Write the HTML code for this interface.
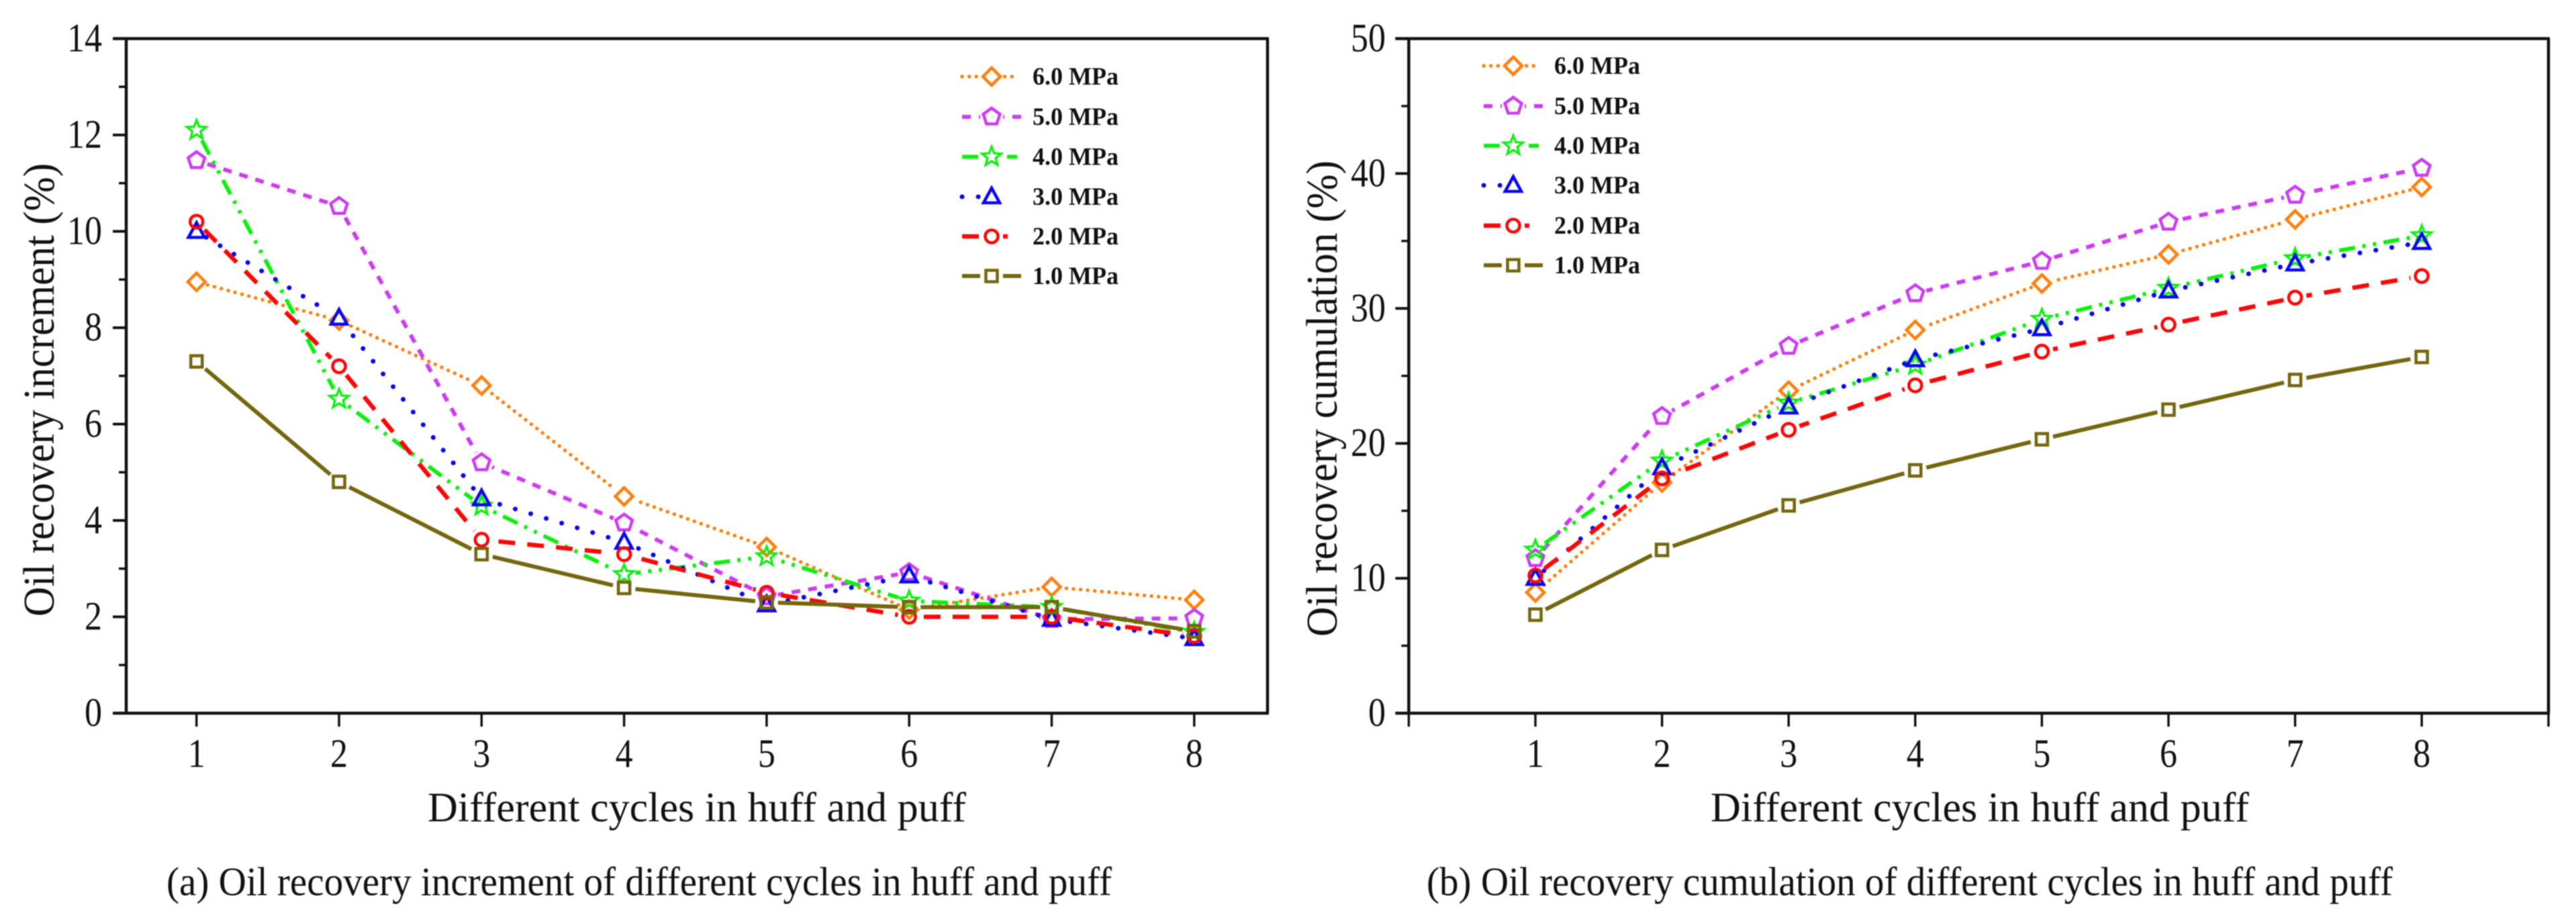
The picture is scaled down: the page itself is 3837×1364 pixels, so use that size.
<!DOCTYPE html>
<html lang="en">
<head>
<meta charset="utf-8">
<title>Oil recovery in huff and puff cycles</title>
<style>
html,body{margin:0;padding:0;background:#fff;width:3837px;height:1364px;overflow:hidden}
svg{display:block;filter:blur(.8px)}
text{font-family:"Liberation Serif",serif;fill:#111}
</style>
</head>
<body>
<svg id="figure" xmlns="http://www.w3.org/2000/svg" width="3837" height="1364" viewBox="0 0 3837 1364">
<rect x="0" y="0" width="3837" height="1364" fill="#fff"/>
</svg>
<script>
const cycles = [1, 2, 3, 4, 5, 6, 7, 8];
const seriesLabels = ['6.0 MPa', '5.0 MPa', '4.0 MPa', '3.0 MPa', '2.0 MPa', '1.0 MPa'];

const incrementP6 = [8.95, 8.15, 6.8, 4.5, 3.45, 2.15, 2.62, 2.35];
const incrementP5 = [11.47, 10.52, 5.2, 3.95, 2.42, 2.92, 1.95, 1.97];
const incrementP4 = [12.1, 6.52, 4.3, 2.88, 3.25, 2.33, 2.2, 1.68];
const incrementP3 = [10.0, 8.2, 4.45, 3.55, 2.25, 2.85, 1.95, 1.55];
const incrementP2 = [10.2, 7.2, 3.6, 3.3, 2.5, 2.0, 2.0, 1.6];
const incrementP1 = [7.3, 4.8, 3.3, 2.6, 2.3, 2.2, 2.2, 1.7];

const cumulationP6 = [8.95, 17.1, 23.9, 28.4, 31.85, 34.0, 36.6, 39.0];
const cumulationP5 = [11.47, 22.0, 27.2, 31.1, 33.5, 36.4, 38.4, 40.4];
const cumulationP4 = [12.1, 18.7, 23.0, 25.8, 29.2, 31.5, 33.7, 35.4];
const cumulationP3 = [10.0, 18.2, 22.7, 26.2, 28.5, 31.3, 33.3, 34.9];
const cumulationP2 = [10.2, 17.4, 21.0, 24.3, 26.8, 28.8, 30.8, 32.4];
const cumulationP1 = [7.3, 12.1, 15.4, 18.0, 20.3, 22.5, 24.7, 26.4];

const incrementTicks = [0, 2, 4, 6, 8, 10, 12, 14];
const incrementMinorTicks = [1, 3, 5, 7, 9, 11, 13];
const cumulationTicks = [0, 10, 20, 30, 40, 50];
const cumulationMinorTicks = [5, 15, 25, 35, 45];

const SVGNS = 'http://www.w3.org/2000/svg';
const root = document.getElementById('figure');

const styles = [
  {key:'6-mpa', color:'#ff8010', dash:'0.1 10.5', cap:'round', w:5.5, marker:'diamond'},
  {key:'5-mpa', color:'#cc3df2', dash:'13 12', cap:'butt', w:6, marker:'pentagon'},
  {key:'4-mpa', color:'#10ee10', dash:'24 11 5 11 5 11', cap:'butt', w:6, marker:'star'},
  {key:'3-mpa', color:'#0808f0', dash:'0.1 24', cap:'round', w:7, marker:'triangle'},
  {key:'2-mpa', color:'#fa0808', dash:'25 18', cap:'butt', w:6.5, marker:'circle'},
  {key:'1-mpa', color:'#75670f', dash:'', cap:'butt', w:6, marker:'square'}
];

function make(tag, attrs, parent) {
  const n = document.createElementNS(SVGNS, tag);
  for (const k in attrs) n.setAttribute(k, attrs[k]);
  (parent || root).appendChild(n);
  return n;
}

function markerPoints(type, cx, cy) {
  const pts = [];
  if (type === 'diamond') {
    return [[cx, cy - 13], [cx + 13, cy], [cx, cy + 13], [cx - 13, cy]];
  }
  if (type === 'triangle') {
    return [[cx, cy - 13], [cx + 12, cy + 9], [cx - 12, cy + 9]];
  }
  if (type === 'square') {
    return [[cx - 8.5, cy - 8.5], [cx + 8.5, cy - 8.5], [cx + 8.5, cy + 8.5], [cx - 8.5, cy + 8.5]];
  }
  if (type === 'pentagon') {
    for (let i = 0; i < 5; i++) {
      const a = -Math.PI / 2 + i * 2 * Math.PI / 5;
      pts.push([cx + 13 * Math.cos(a), cy + 13 * Math.sin(a)]);
    }
    return pts;
  }
  for (let i = 0; i < 10; i++) {
    const a = -Math.PI / 2 + i * Math.PI / 5;
    const r = i % 2 ? 6.4 : 15;
    pts.push([cx + r * Math.cos(a), cy + r * Math.sin(a)]);
  }
  return pts;
}

function drawMarker(st, cx, cy, parent, name) {
  let m;
  if (st.marker === 'circle') {
    m = make('circle', {cx: cx, cy: cy, r: 9.5, fill: 'none', stroke: st.color, 'stroke-width': 4.6}, parent);
  } else {
    m = make('polygon', {
      points: markerPoints(st.marker, cx, cy).map(p => p[0].toFixed(1) + ',' + p[1].toFixed(1)).join(' '),
      fill: 'none', stroke: st.color, 'stroke-width': st.marker === 'star' ? 3.4 : 4.6
    }, parent);
  }
  
  
}

function drawSeries(st, values, xScale, yScale, parent, prefix) {
  const gap = 17;
  let travelled = 0;
  for (let i = 0; i < values.length - 1; i++) {
    const x1 = xScale(cycles[i]), y1 = yScale(values[i]);
    const x2 = xScale(cycles[i + 1]), y2 = yScale(values[i + 1]);
    const len = Math.hypot(x2 - x1, y2 - y1);
    if (len <= gap * 2) continue;
    const ux = (x2 - x1) / len, uy = (y2 - y1) / len;
    const seg = make('line', {
      x1: x1 + ux * gap, y1: y1 + uy * gap, x2: x2 - ux * gap, y2: y2 - uy * gap,
      stroke: st.color, 'stroke-width': st.w, 'stroke-linecap': st.cap,
      'stroke-dasharray': st.dash, 'stroke-dashoffset': travelled
    }, parent);
    
    
    travelled += len;
  }
  values.forEach((v, i) => {
    drawMarker(st, xScale(cycles[i]), yScale(v), parent, prefix + '-point-' + st.key + '-cycle-' + cycles[i]);
  });
}

function addText(str, attrs, parent, name) {
  const t = make('text', attrs, parent);
  t.textContent = str;
  
  
  return t;
}

function drawPanel(cfg) {
  const g = make('g', {});
  
  
  const {left, right, top, bottom} = cfg.box;
  const xScale = v => cfg.x1 + (v - 1) * cfg.xStep;
  const yScale = v => bottom - (v - cfg.yMin) / (cfg.yMax - cfg.yMin) * (bottom - top);
  const tickLeft = left - 20;

  const frame = [
    ['axis-top', tickLeft, top, right + 2, top],
    ['axis-bottom', tickLeft, bottom, right + 2, bottom],
    ['axis-left', left, top, left, bottom],
    ['axis-right', right, top, right, bottom]
  ];
  frame.forEach(f => {
    const l = make('line', {x1: f[1], y1: f[2], x2: f[3], y2: f[4], stroke: '#111', 'stroke-width': 4.5}, g);
    
    
  });

  cfg.yTicks.forEach(v => {
    const l = make('line', {x1: tickLeft, y1: yScale(v), x2: left, y2: yScale(v), stroke: '#111', 'stroke-width': 4}, g);
    
    
    const label = String(v);
    addText(label, {x: cfg.yLabelRight, y: yScale(v) + 19, 'text-anchor': 'end', 'font-size': 60, textLength: label.length * 26, lengthAdjust: 'spacingAndGlyphs'}, g, cfg.prefix + '-y-tick-label-' + v);
  });
  cfg.yMinor.forEach(v => {
    const l = make('line', {x1: left - 11, y1: yScale(v), x2: left, y2: yScale(v), stroke: '#111', 'stroke-width': 3.5}, g);
    
    
  });
  cycles.forEach(c => {
    const l = make('line', {x1: xScale(c), y1: bottom, x2: xScale(c), y2: bottom + 20, stroke: '#111', 'stroke-width': 3.5}, g);
    
    
    addText(String(c), {x: xScale(c), y: 1142, 'text-anchor': 'middle', 'font-size': 60, textLength: 26, lengthAdjust: 'spacingAndGlyphs'}, g, cfg.prefix + '-x-tick-label-' + c);
  });
  if (cfg.edgeTicks) {
    [left, right].forEach((ex, i) => {
      const l = make('line', {x1: ex, y1: bottom, x2: ex, y2: bottom + 20, stroke: '#111', 'stroke-width': 3.5}, g);
      
      
    });
  }

  styles.forEach((st, i) => drawSeries(st, cfg.series[i], xScale, yScale, g, cfg.prefix));

  styles.forEach((st, i) => {
    const ly = cfg.legend.ys[i];
    const lg = make('g', {}, g);
    
    
    const x0 = cfg.legend.x;
    const mx = x0 + 44;
    const endX = x0 + (st.marker === 'diamond' ? 80 : st.marker === 'star' ? 82 : st.marker === 'triangle' ? 64 : st.marker === 'circle' ? 80 : 88);
    const l1 = make('line', {x1: x0, y1: ly, x2: mx - 17, y2: ly, stroke: st.color, 'stroke-width': st.w, 'stroke-linecap': st.cap, 'stroke-dasharray': st.dash}, lg);
    
    
    const l2 = make('line', {x1: mx + 17, y1: ly, x2: endX, y2: ly, stroke: st.color, 'stroke-width': st.w, 'stroke-linecap': st.cap, 'stroke-dasharray': st.dash, 'stroke-dashoffset': 61}, lg);
    
    
    drawMarker(st, mx, ly, lg, 'legend-marker');
    addText(seriesLabels[i], {x: cfg.legend.textX, y: ly + 12, 'font-size': 37, 'font-weight': 'bold', textLength: 128, lengthAdjust: 'spacingAndGlyphs'}, lg, 'legend-label');
  });

  addText(cfg.yTitle.text, {
    transform: 'translate(' + cfg.yTitle.x + ',' + cfg.yTitle.y + ') rotate(-90)',
    'font-size': 66, textLength: cfg.yTitle.len, lengthAdjust: 'spacingAndGlyphs'
  }, g, cfg.prefix + '-y-axis-title');
  addText(cfg.xTitle.text, {x: cfg.xTitle.x, y: 1223, 'font-size': 62, textLength: cfg.xTitle.len, lengthAdjust: 'spacingAndGlyphs'}, g, cfg.prefix + '-x-axis-title');
  addText(cfg.caption.text, {x: cfg.caption.x, y: 1333, 'font-size': 60, textLength: cfg.caption.len, lengthAdjust: 'spacingAndGlyphs'}, g, cfg.prefix + '-caption');
}

drawPanel({
  prefix: 'increment',
  box: {left: 188, right: 1888, top: 57.5, bottom: 1062},
  x1: 292.7, xStep: 212.3,
  yMin: 0, yMax: 14,
  yTicks: incrementTicks, yMinor: incrementMinorTicks,
  yLabelRight: 152,
  edgeTicks: false,
  series: [incrementP6, incrementP5, incrementP4, incrementP3, incrementP2, incrementP1],
  legend: {x: 1433, textX: 1538, ys: [114, 174, 233.5, 293, 352, 411]},
  yTitle: {text: 'Oil recovery increment (%)', x: 80, y: 918, len: 675},
  xTitle: {text: 'Different cycles in huff and puff', x: 637, len: 802},
  caption: {text: '(a) Oil recovery increment of different cycles in huff and puff', x: 248, len: 1408}
});

drawPanel({
  prefix: 'cumulation',
  box: {left: 2098.4, right: 3796, top: 57.5, bottom: 1062},
  x1: 2287, xStep: 188.6,
  yMin: 0, yMax: 50,
  yTicks: cumulationTicks, yMinor: cumulationMinorTicks,
  yLabelRight: 2064,
  edgeTicks: true,
  series: [cumulationP6, cumulationP5, cumulationP4, cumulationP3, cumulationP2, cumulationP1],
  legend: {x: 2210, textX: 2315, ys: [98, 158, 217, 276, 336, 395]},
  yTitle: {text: 'Oil recovery cumulation (%)', x: 1991, y: 948, len: 709},
  xTitle: {text: 'Different cycles in huff and puff', x: 2548, len: 802},
  caption: {text: '(b) Oil recovery cumulation of different cycles in huff and puff', x: 2125, len: 1439}
});
</script>
</body>
</html>
